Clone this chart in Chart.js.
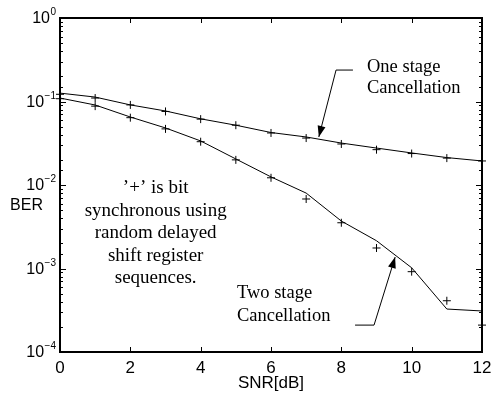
<!DOCTYPE html>
<html>
<head>
<meta charset="utf-8">
<script src="https://cdn.jsdelivr.net/npm/chart.js@4/dist/chart.umd.min.js"></script>
<style>
html,body{margin:0;padding:0;background:#fff;}
#wrap{width:492px;height:394px;}
</style>
</head>
<body>
<div id="wrap"><canvas id="c" width="492" height="394"></canvas></div>
<script>
// ---- data ----
const snrDb = [0,1,2,3,4,5,6,7,8,9,10,11,12];
const oneStageLine  = [0.126,0.113,0.091,0.077,0.062,0.052,0.0425,0.0376,0.0318,0.0277,0.0242,0.0213,0.0194];
const oneStageMarks = [0.122,0.110,0.091,0.076,0.0615,0.052,0.042,0.0365,0.031,0.0265,0.0238,0.021,0.0194];
const twoStageLine  = [0.110,0.0908,0.0652,0.0482,0.0337,0.0205,0.0125,0.0080,0.0037,0.00215,0.00102,0.000327,0.00031];
const twoStageMarks = [0.108,0.088,0.064,0.047,0.033,0.020,0.0122,0.0068,0.00353,0.00176,0.000916,0.000411,0.00021];
const xTickStep = 2;
const xTitle = 'SNR[dB]';
const yTitle = 'BER';
const noteLines = ['\u2019+\u2019 is bit','synchronous using','random delayed','shift register','sequences.'];
const oneStageLabel = ['One stage','Cancellation'];
const twoStageLabel = ['Two stage','Cancellation'];

const SANS = '"Liberation Sans", Arial, sans-serif';
const SERIF = '"Liberation Serif", "Times New Roman", serif';

function isDecade(v){ const l = Math.log10(v); return Math.abs(l - Math.round(l)) < 1e-9; }

const pts = (ys) => snrDb.map((x,i) => ({x:x, y:ys[i]}));

const decor = {
  id: 'decor',
  afterDatasetsDraw(chart){
    const ctx = chart.ctx, xs = chart.scales.x, ys = chart.scales.y;
    const X = v => xs.getPixelForValue(v), Y = v => ys.getPixelForValue(v);
    ctx.save();
    ctx.strokeStyle = '#000'; ctx.fillStyle = '#000'; ctx.lineWidth = 1;
    function arrow(path){
      ctx.beginPath();
      ctx.moveTo(X(path[0][0]), Y(path[0][1]));
      for (let i=1;i<path.length;i++) ctx.lineTo(X(path[i][0]), Y(path[i][1]));
      ctx.stroke();
      const a = path[path.length-2], b = path[path.length-1];
      const x1=X(a[0]), y1=Y(a[1]), x2=X(b[0]), y2=Y(b[1]);
      const ang = Math.atan2(y2-y1, x2-x1), L=11, W=4;
      ctx.beginPath();
      ctx.moveTo(x2,y2);
      ctx.lineTo(x2 - L*Math.cos(ang) + W*Math.sin(ang), y2 - L*Math.sin(ang) - W*Math.cos(ang));
      ctx.lineTo(x2 - L*Math.cos(ang) - W*Math.sin(ang), y2 - L*Math.sin(ang) + W*Math.cos(ang));
      ctx.closePath(); ctx.fill();
    }
    arrow([[8.33,0.238],[7.85,0.238],[7.36,0.0376]]);
    arrow([[8.39,0.00021],[8.93,0.00021],[9.53,0.00137]]);
    ctx.font = '18.5px ' + SERIF;
    ctx.textBaseline = 'middle';
    ctx.textAlign = 'left';
    ctx.fillText(oneStageLabel[0], X(8.73), Y(0.259));
    ctx.fillText(oneStageLabel[1], X(8.73), Y(0.145));
    ctx.fillText(twoStageLabel[0], X(5.03), Y(0.000505));
    ctx.fillText(twoStageLabel[1], X(5.03), Y(0.000268));
    ctx.font = '19px ' + SERIF;
    ctx.textAlign = 'center';
    const cx = X(2.72);
    const base = Math.log10(0.0092), step = 0.27;
    noteLines.forEach((t,i) => ctx.fillText(t, cx, Y(Math.pow(10, base - i*step))));
    ctx.restore();
  },
  afterDraw(chart){
    const ctx = chart.ctx, a = chart.chartArea, xs = chart.scales.x, ys = chart.scales.y;
    ctx.save();
    ctx.strokeStyle = '#000'; ctx.lineWidth = 1;
    // inner ticks
    ctx.beginPath();
    ys.ticks.forEach(t => {
      const y = Math.round(ys.getPixelForValue(t.value)) + 0.5;
      const len = isDecade(t.value) ? 6 : 3;
      ctx.moveTo(a.left, y); ctx.lineTo(a.left + len, y);
      ctx.moveTo(a.right, y); ctx.lineTo(a.right - len, y);
    });
    xs.ticks.forEach(t => {
      const x = Math.round(xs.getPixelForValue(t.value)) + 0.5;
      ctx.moveTo(x, a.bottom); ctx.lineTo(x, a.bottom - 5);
      ctx.moveTo(x, a.top); ctx.lineTo(x, a.top + 5);
    });
    ctx.stroke();
    // box
    ctx.lineWidth = 2;
    ctx.strokeRect(a.left, a.top, a.right - a.left, a.bottom - a.top);
    // decade tick labels: 10 with a raised exponent
    ctx.fillStyle = '#000';
    ctx.textBaseline = 'middle';
    ys.ticks.filter(t => isDecade(t.value)).forEach(t => {
      const y = ys.getPixelForValue(t.value);
      const e = String(Math.round(Math.log10(t.value))).replace('-', '\u2212');
      ctx.font = '10px ' + SANS;
      const ew = ctx.measureText(e).width;
      const right = a.left - 4;
      ctx.textAlign = 'right';
      ctx.fillText(e, right, y - 5.5);
      ctx.font = '16px ' + SANS;
      ctx.fillText('10', right - ew - 0.5, y + 1);
    });
    // horizontal y-axis label
    ctx.font = '16px ' + SANS;
    ctx.textAlign = 'center';
    ctx.fillText(yTitle, 26.5, ys.getPixelForValue(0.0056));
    ctx.restore();
  }
};

new Chart(document.getElementById('c'), {
  type: 'line',
  data: {
    datasets: [
      {data: pts(oneStageLine), borderColor:'#000', borderWidth:1, pointRadius:0, tension:0, fill:false},
      {data: pts(oneStageMarks), showLine:false, clip:false, pointStyle:'cross', pointRadius:4, pointBorderColor:'#000', pointBorderWidth:1},
      {data: pts(twoStageLine), borderColor:'#000', borderWidth:1, pointRadius:0, tension:0, fill:false},
      {data: pts(twoStageMarks), showLine:false, clip:false, pointStyle:'cross', pointRadius:4, pointBorderColor:'#000', pointBorderWidth:1}
    ]
  },
  options: {
    responsive: false,
    devicePixelRatio: 1,
    animation: false,
    events: [],
    layout: {padding: {top: 18, right: 10, left: 0, bottom: 0}},
    plugins: {legend: {display:false}, tooltip: {enabled:false}},
    scales: {
      x: {
        type: 'linear', min: 0, max: 12,
        grid: {display:false, drawTicks:false},
        border: {display:false},
        ticks: {stepSize: xTickStep, color:'#000', font:{family:SANS, size:17}, padding: 6, maxRotation:0},
        title: {display:true, text:xTitle, color:'#000', font:{family:SANS, size:17}, padding:{top:4,bottom:0}},
        afterFit(s){ s.height = 42; s.paddingLeft = 0; s.paddingRight = 0; }
      },
      y: {
        type: 'logarithmic', min: 1e-4, max: 1,
        grid: {display:false, drawTicks:false},
        border: {display:false},
        ticks: {autoSkip: false, callback: () => ''},
        afterFit(s){ s.width = 60; s.paddingTop = 0; s.paddingBottom = 0; }
      }
    }
  },
  plugins: [decor]
});
</script>
</body>
</html>
